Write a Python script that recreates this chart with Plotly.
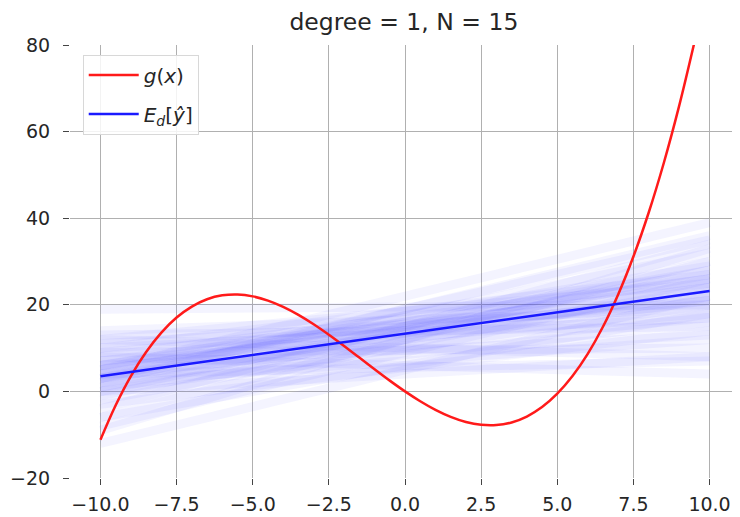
import plotly.graph_objects as go

# true function g(x)
g_x = [-10, -9.5, -9, -8.5, -8, -7.5, -7, -6.5, -6, -5.5, -5, -4.5, -4, -3.5, -3, -2.5, -2, -1.5, -1, -0.5,
       0, 0.5, 1, 1.5, 2, 2.5, 3, 3.5, 4, 4.5, 5, 5.5, 6, 6.5, 7, 7.5, 8, 8.5, 9, 9.5]
g_y = [-11.18, -3.21, 3.53, 9.09, 13.58, 17.05, 19.59, 21.28, 22.18, 22.38, 21.95, 20.97, 19.52, 17.67, 15.50,
       13.08, 10.49, 7.82, 5.12, 2.49, 0.0, -2.28, -4.27, -5.89, -7.07, -7.72, -7.78, -7.17, -5.81, -3.62,
       -0.53, 3.54, 8.67, 14.92, 22.39, 31.14, 41.26, 52.81, 65.88, 80.53]

# individual degree-1 fits: value at x=-10 and at x=10
fit_x = [-10, 10]
fit_left = [-12, -8, -6, -4, 5, 2, 0, 3, -2, 1, 4, 6, 8, 2, 5, 7, 10, 12, 0, 3, 6, 9, 11, 14, 19,
            1, 4, 7, 10, 13, -3, 2, 6, 9, 12, -6, 4, 8, 0, -9, 3, 5, -1, 6, 3]
fit_right = [22, 26, 30, 34, 39, 36, 30, 32, 24, 27, 28, 29, 26, 22, 25, 24, 27, 25, 20, 21, 22, 21, 20, 19, 20,
             16, 17, 18, 17, 15, 14, 12, 13, 10, 8, 18, 7, 4, 8, 33, 35, 24, 28, 26, 23]

# expected prediction E_d[y_hat]
mean_x = [-10, 10]
mean_y = [3.5, 23.2]

x_tickvals = [-10, -7.5, -5, -2.5, 0, 2.5, 5, 7.5, 10]
x_ticktext = ["\u221210.0", "\u22127.5", "\u22125.0", "\u22122.5", "0.0", "2.5", "5.0", "7.5", "10.0"]
y_tickvals = [-20, 0, 20, 40, 60, 80]
y_ticktext = ["\u221220", "0", "20", "40", "60", "80"]

fig = go.Figure()

for l, r in zip(fit_left, fit_right):
    fig.add_trace(go.Scatter(x=fit_x, y=[l, r], mode="lines",
                             line=dict(color="rgba(70,70,255,0.06)", width=9),
                             showlegend=False, hoverinfo="skip"))

fig.add_trace(go.Scatter(x=g_x, y=g_y, mode="lines", line=dict(color="#ff1a1a", width=2.5, shape="spline"),
                         name="<i>g</i>(<i>x</i>)", legendgroup="g"))
fig.add_trace(go.Scatter(x=mean_x, y=mean_y, mode="lines", line=dict(color="#1a1aff", width=2.5),
                         name="<i>E</i><sub><i>d</i></sub>[<i>\u0177</i>]", legendgroup="e"))

axis_common = dict(showgrid=True, gridcolor="#b0b0b0", gridwidth=1, zeroline=False, showline=False,
                   ticks="outside", ticklen=6, tickcolor="#444444", automargin=False,
                   tickfont=dict(family="DejaVu Sans", size=19, color="#262626"))

fig.update_layout(
    width=740, height=517,
    margin=dict(l=62, r=8, t=37, b=47),
    paper_bgcolor="white", plot_bgcolor="white",
    font=dict(family="DejaVu Sans", color="#262626"),
    title=dict(text="degree = 1, N = 15", x=0.535, xanchor="center", y=0.973, yanchor="middle",
               font=dict(family="DejaVu Sans", size=23.5, color="#262626")),
    xaxis=dict(range=[-11, 11], tickvals=x_tickvals, ticktext=x_ticktext, ticklabelstandoff=3, **axis_common),
    yaxis=dict(range=[-20, 80], tickvals=y_tickvals, ticktext=y_ticktext, ticklabelstandoff=9, **axis_common),
    legend=dict(x=0.019, y=0.978, xanchor="left", yanchor="top",
                bgcolor="rgba(255,255,255,0.85)", bordercolor="#d8d8d8", borderwidth=1,
                font=dict(family="DejaVu Sans", size=20, color="#262626"),
                tracegroupgap=10, itemwidth=50),
    showlegend=True,
)

fig.write_html("out.html")
